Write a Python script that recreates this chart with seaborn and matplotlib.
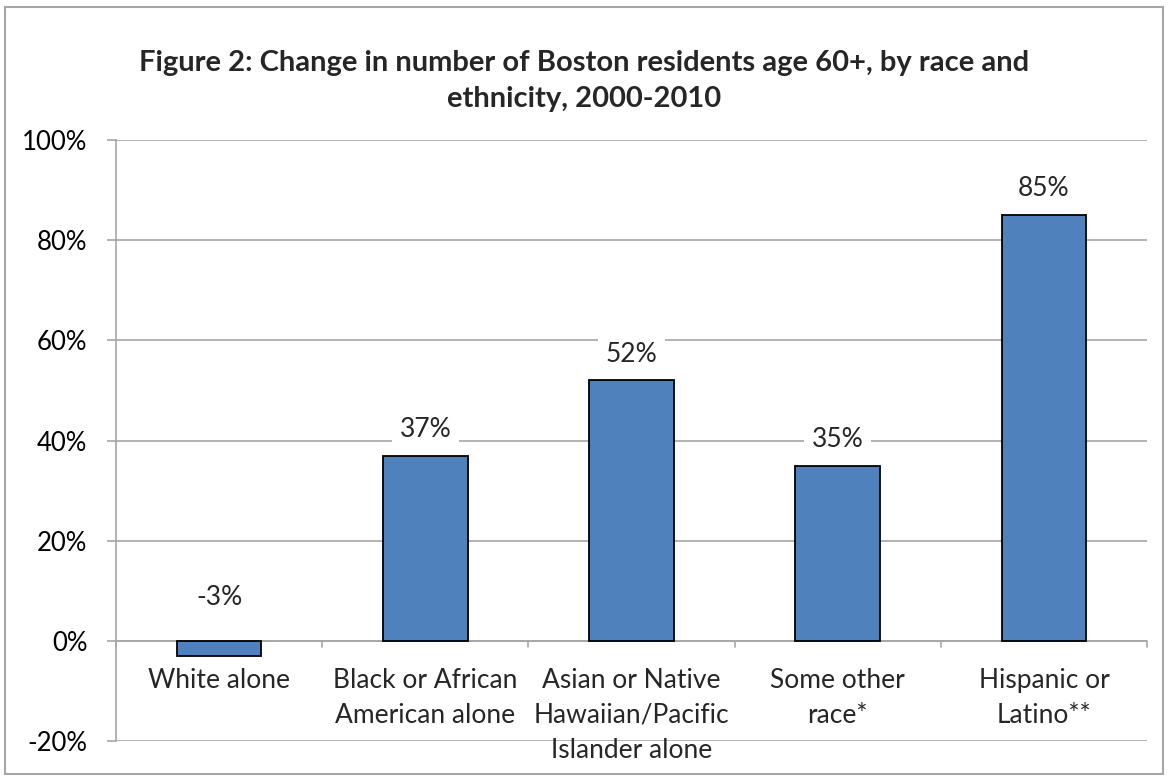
import matplotlib
matplotlib.use("Agg")
import matplotlib.pyplot as plt
import seaborn as sns
import pandas as pd
import numpy as np
from matplotlib.patches import Rectangle

categories = ["White alone", "Black or African\nAmerican alone",
              "Asian or Native\nHawaiian/Pacific\nIslander alone",
              "Some other\nrace*", "Hispanic or\nLatino**"]
values = [-3, 37, 52, 35, 85]
labels = ["-3%", "37%", "52%", "35%", "85%"]
yticks = [-20, 0, 20, 40, 60, 80, 100]

sns.set_theme(style="white")
plt.rcParams['font.family'] = ['Lato', 'DejaVu Sans']

df = pd.DataFrame({"cat": categories, "val": values})

fig = plt.figure(figsize=(11.68, 7.76), dpi=100)
ax = fig.add_axes([116 / 1168, 1 - 741 / 776, 1031 / 1168, 601 / 776])

sns.barplot(data=df, x="cat", y="val", color="#4F81BD", saturation=1,
            width=0.41, edgecolor="black", linewidth=1.3, ax=ax, zorder=3)

ax.set_ylim(-20, 100)
ax.set_xlim(-0.5, 4.5)
ax.set_yticks(yticks)
ax.set_yticklabels([f"{t}%" for t in yticks], fontsize=18.5, color="black")
ax.yaxis.grid(True, color="#A6A6A6", linewidth=1.2, zorder=0)
ax.axhline(0, color="#A6A6A6", linewidth=1.2, zorder=2)
ax.tick_params(axis="y", left=True, length=6.5, color="#A6A6A6", width=1.2, pad=14)

# category labels placed below zero line
ax.set_xticks([])
ax.set_xlabel("")
ax.set_ylabel("")
for i, c in enumerate(categories):
    ax.text(i, -5.4, c, ha="center", va="top", fontsize=19, linespacing=1.5)
# separator ticks at category boundaries
for b in np.arange(-0.5, 5, 1.0):
    ax.plot([b, b], [0, -1.3], color="#A6A6A6", linewidth=1.2, clip_on=False, zorder=2)

for i, (v, l) in enumerate(zip(values, labels)):
    off = 19 if v >= 0 else 31
    ax.annotate(l, (i, max(v, 0)), xytext=(0, off), textcoords="offset points",
                ha="center", va="center", fontsize=19, zorder=4,
                bbox=dict(boxstyle="square,pad=0.3", fc="white", ec="none"))

for s in ["top", "right", "bottom"]:
    ax.spines[s].set_visible(False)
ax.spines["left"].set_color("#A6A6A6")
ax.spines["left"].set_linewidth(1.2)

fig.text(0.5, 1 - 81 / 776, "Figure 2: Change in number of Boston residents age 60+, by race and\nethnicity, 2000-2010",
         ha="center", va="center", fontsize=21, fontweight="bold", linespacing=1.45)

fig.patches.append(Rectangle((5 / 1168, 0.002), 1158 / 1168, 1 - 7 / 776 - 0.002,
                             transform=fig.transFigure, fill=False,
                             edgecolor="#A6A6A6", linewidth=1.5))

fig.savefig("out.png", dpi=100)
